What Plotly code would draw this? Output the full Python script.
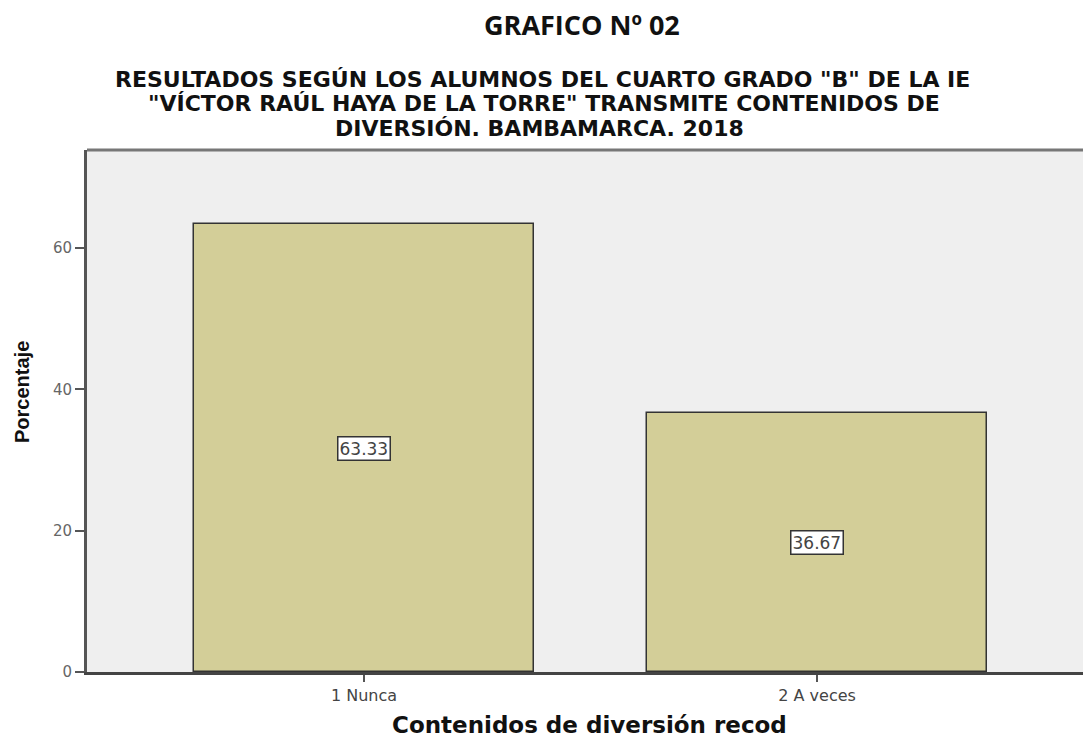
import plotly.graph_objects as go

categories = ["1 Nunca", "2 A veces"]
values = [63.33, 36.67]
value_labels = ["63.33", "36.67"]
y_ticks = [0, 20, 40, 60]

title_main = "GRAFICO Nº 02"
subtitle_lines = [
    'RESULTADOS SEGÚN LOS ALUMNOS DEL CUARTO GRADO "B" DE LA IE',
    '"VÍCTOR RAÚL HAYA DE LA TORRE" TRANSMITE CONTENIDOS DE',
    'DIVERSIÓN. BAMBAMARCA. 2018',
]
x_title = "Contenidos de diversión recod"
y_title = "Porcentaje"

xpos = list(range(len(categories)))

fig = go.Figure()
fig.add_trace(go.Bar(
    x=xpos, y=values, width=0.75,
    marker=dict(color="#d3ce98", line=dict(color="#333333", width=1.5)),
    hoverinfo="skip", showlegend=False,
))

# value labels at mid-bar
for xv, v, t in zip(xpos, values, value_labels):
    fig.add_annotation(
        x=xv, y=v / 2, text=t, showarrow=False,
        font=dict(family="DejaVu Sans", size=17, color="#444444"),
        bgcolor="white", bordercolor="#333333", borderwidth=1.5, borderpad=1,
    )

PL, PT, PB, PW, PH = 87, 150, 672, 996, 522

fig.add_annotation(
    xref="paper", yref="paper", x=(582 - PL) / PW, y=1 + (PT - 25) / PH,
    text="<b>" + title_main + "</b>", showarrow=False,
    font=dict(family="Open Sans", size=27, color="#111111"),
    xanchor="center", yanchor="middle",
)
sub_x = [542, 544, 539]
sub_y = [80, 104, 128]
for line, xp, yp in zip(subtitle_lines, sub_x, sub_y):
    fig.add_annotation(
        xref="paper", yref="paper", x=(xp - PL) / PW, y=1 + (PT - yp) / PH,
        text="<b>" + line + "</b>", showarrow=False,
        font=dict(family="DejaVu Sans", size=22, color="#111111"),
        xanchor="center", yanchor="middle",
    )

fig.add_annotation(
    xref="paper", yref="paper", x=(589 - PL) / PW, y=-(725 - PB) / PH,
    text="<b>" + x_title + "</b>", showarrow=False,
    font=dict(family="DejaVu Sans", size=23, color="#111111"),
    xanchor="center", yanchor="middle",
)
fig.add_annotation(
    xref="paper", yref="paper", x=-(PL - 22) / PW, y=(PB - 392) / PH,
    text="<b>" + y_title + "</b>", showarrow=False, textangle=-90,
    font=dict(family="Liberation Sans Narrow, Liberation Sans", size=20, color="#111111"),
    xanchor="center", yanchor="middle",
)

# top frame line
fig.add_shape(type="line", xref="paper", yref="paper", x0=0, x1=1, y0=1, y1=1,
              line=dict(color="#777777", width=3))

fig.update_layout(
    width=1083, height=737,
    margin=dict(l=PL, r=0, t=PT, b=737 - PB),
    paper_bgcolor="white", plot_bgcolor="#efefef",
    xaxis=dict(
        range=[-0.6115, 1.587], tickvals=xpos, ticktext=categories,
        showgrid=False, zeroline=False,
        showline=True, linecolor="#444444", linewidth=3,
        ticks="outside", ticklen=7, tickcolor="#555555", tickwidth=1.5,
        tickfont=dict(family="DejaVu Sans", size=16, color="#444444"),
    ),
    yaxis=dict(
        range=[0, 73.87], tickvals=y_ticks,
        showgrid=False, zeroline=False,
        showline=True, linecolor="#555555", linewidth=3,
        ticks="outside", ticklen=9, tickcolor="#555555", tickwidth=2,
        tickfont=dict(family="DejaVu Sans", size=15, color="#666666"),
    ),
    bargap=0,
)

fig.write_html("out.html", config={"displayModeBar": False},
               post_script="document.body.style.margin='0';")
